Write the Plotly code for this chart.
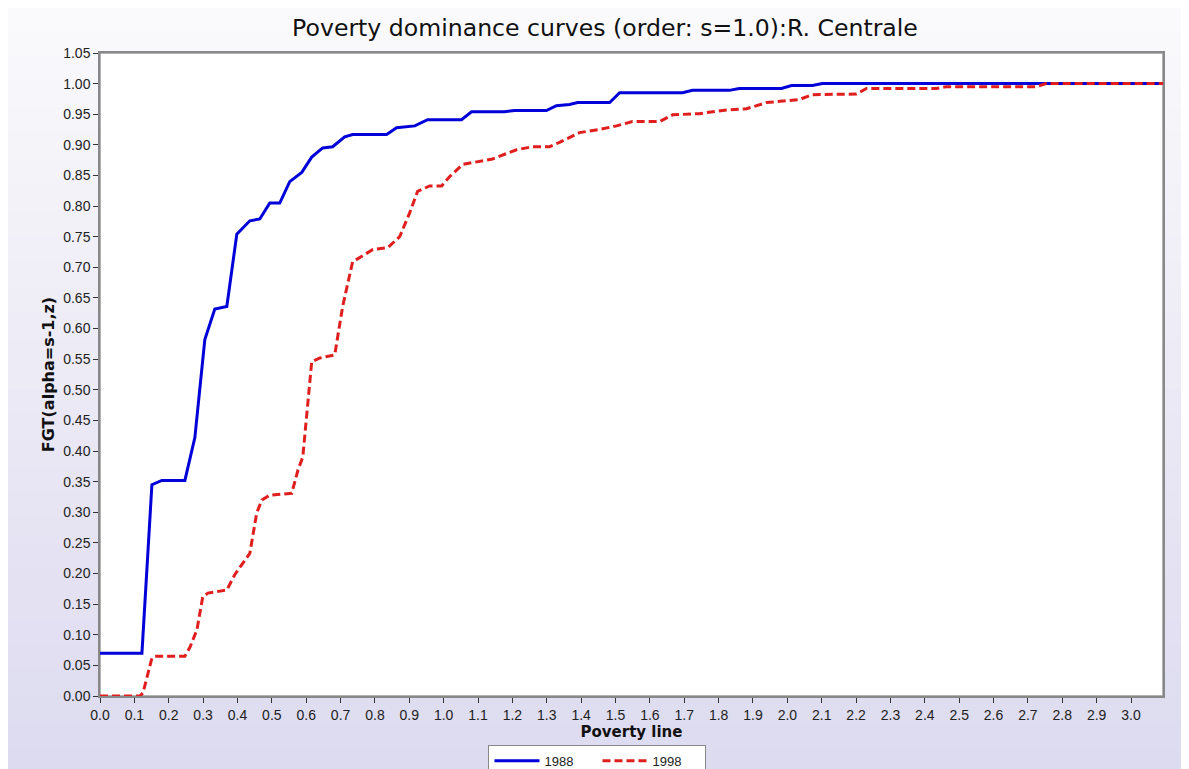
import plotly.graph_objects as go

# poverty line values and FGT values
x_1988 = [0.0, 0.122, 0.151, 0.180, 0.247, 0.276, 0.305, 0.334, 0.369, 0.398,
          0.436, 0.465, 0.494, 0.523, 0.552, 0.587, 0.616, 0.648, 0.677, 0.712,
          0.735, 0.834, 0.863, 0.916, 0.953, 1.052, 1.081, 1.177, 1.206, 1.299,
          1.328, 1.366, 1.390, 1.483, 1.512, 1.695, 1.724, 1.831, 1.860, 1.983,
          2.012, 2.073, 2.102, 3.093]
y_1988 = [0.070, 0.070, 0.345, 0.352, 0.352, 0.422, 0.582, 0.632, 0.636, 0.754,
          0.776, 0.779, 0.805, 0.805, 0.840, 0.855, 0.880, 0.895, 0.897, 0.913,
          0.917, 0.917, 0.928, 0.931, 0.941, 0.941, 0.954, 0.954, 0.956, 0.956,
          0.964, 0.966, 0.969, 0.969, 0.985, 0.985, 0.989, 0.989, 0.992, 0.992,
          0.997, 0.997, 1.000, 1.000]

x_1998 = [0.0, 0.116, 0.125, 0.151, 0.160, 0.247, 0.262, 0.282, 0.299, 0.314,
          0.369, 0.392, 0.436, 0.456, 0.471, 0.494, 0.558, 0.576, 0.590, 0.616,
          0.640, 0.683, 0.706, 0.735, 0.794, 0.837, 0.872, 0.901, 0.924, 0.959,
          0.994, 1.017, 1.055, 1.105, 1.142, 1.212, 1.259, 1.308, 1.337, 1.395,
          1.453, 1.503, 1.549, 1.628, 1.666, 1.744, 1.823, 1.881, 1.939, 2.035,
          2.073, 2.201, 2.230, 2.433, 2.462, 2.724, 2.753, 3.093]
y_1998 = [0.000, 0.000, 0.005, 0.062, 0.065, 0.065, 0.080, 0.108, 0.162, 0.168,
          0.173, 0.198, 0.233, 0.299, 0.320, 0.328, 0.331, 0.369, 0.390, 0.546,
          0.552, 0.557, 0.636, 0.709, 0.729, 0.732, 0.750, 0.789, 0.824, 0.833,
          0.833, 0.848, 0.868, 0.873, 0.877, 0.892, 0.897, 0.897, 0.904, 0.920,
          0.925, 0.931, 0.938, 0.938, 0.949, 0.951, 0.957, 0.959, 0.969, 0.974,
          0.982, 0.983, 0.992, 0.992, 0.995, 0.995, 1.000, 1.000]

x_ticks = [i / 10 for i in range(31)]
y_ticks = [i / 100 for i in range(0, 106, 5)]

fig = go.Figure()

fig.add_trace(go.Scatter(x=x_1988, y=y_1988, mode="lines", name="1988",
                         line=dict(color="#0000D8", width=3)))
fig.add_trace(go.Scatter(x=x_1998, y=y_1998, mode="lines", name="1998",
                         line=dict(color="#E01E1E", width=3, dash="8px,4px")))

# soft lavender background, lighter at the top
shapes = []
n = 30
y0, y1 = -0.12, 1.075
for i in range(n):
    t = i / (n - 1)
    r = int(250 + (221 - 250) * t)
    g = int(250 + (219 - 250) * t)
    b = int(252 + (240 - 252) * t)
    shapes.append(dict(type="rect", xref="paper", yref="paper", layer="below",
                       x0=-0.1, x1=1.03,
                       y0=y1 - (y1 - y0) * (i + 1) / n - 0.002,
                       y1=y1 - (y1 - y0) * i / n,
                       fillcolor=f"rgb({r},{g},{b})", line=dict(width=0)))
shapes.append(dict(type="rect", xref="paper", yref="paper", layer="below",
                   x0=0, x1=1, y0=0, y1=1, fillcolor="white",
                   line=dict(color="#999999", width=1.5)))

fig.update_layout(
    width=1181, height=761,
    margin=dict(l=92, r=26, t=45, b=73, autoexpand=False),
    paper_bgcolor="#E6E4F4",
    plot_bgcolor="white",
    shapes=shapes,
    title=dict(text="Poverty dominance curves (order: s=1.0):R. Centrale",
               x=0.5055, xanchor="center", y=0.974, yanchor="middle",
               font=dict(family="DejaVu Sans", size=23.6, color="#111111")),
    xaxis=dict(range=[0, 3.093], tickvals=x_ticks,
               ticktext=[f"{v:.1f}" for v in x_ticks],
               showgrid=False, zeroline=False, showline=True,
               linecolor="#888888", linewidth=1.5, mirror=True,
               ticks="outside", ticklen=5, tickcolor="#333333",
               tickfont=dict(family="Liberation Sans", size=14, color="#222222"),
               title=dict(text="<b>Poverty line</b>", standoff=5,
                          font=dict(family="DejaVu Sans", size=15, color="#111111"))),
    yaxis=dict(range=[0, 1.05], tickvals=y_ticks,
               ticktext=[f"{v:.2f}" for v in y_ticks],
               showgrid=False, zeroline=False, showline=True,
               linecolor="#888888", linewidth=1.5, mirror=True,
               ticks="outside", ticklen=5, tickcolor="#333333",
               tickfont=dict(family="Liberation Sans", size=14, color="#222222"),
               title=dict(text="<b>FGT(alpha=s-1,z)</b>", standoff=5,
                          font=dict(family="DejaVu Sans", size=16, color="#111111"))),
    showlegend=True,
    legend=dict(orientation="h", x=0.468, xanchor="center", y=-0.076, yanchor="top",
                bgcolor="white", bordercolor="#888888", borderwidth=1,
                itemwidth=45, entrywidth=48, tracegroupgap=0,
                font=dict(family="Liberation Sans", size=13, color="#222222")),
)

fig.write_html("out.html")
